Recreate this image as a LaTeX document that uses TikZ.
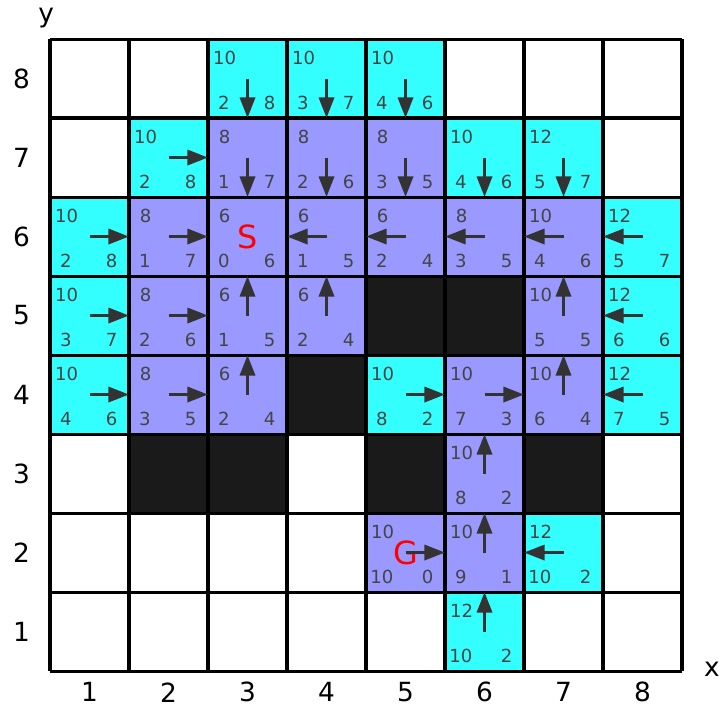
\documentclass[tikz,border=0pt]{standalone}
\usepackage{fontspec}
\setmainfont{DejaVu Sans}
\usetikzlibrary{arrows.meta}

\definecolor{openc}{HTML}{33FFFF}
\definecolor{closedc}{HTML}{9999FF}
\definecolor{wallc}{HTML}{1A1A1A}
\definecolor{numc}{HTML}{444444}
\definecolor{arrc}{HTML}{333333}

\begin{document}
\begin{tikzpicture}[
  cell/.style={minimum size=1cm, inner sep=0pt, outer sep=0pt},
  num/.style={font=\fontsize{6.5}{7}\selectfont, text=numc, inner sep=0pt},
  parent/.style={draw=arrc, line width=1.2pt, -{Triangle[length=2.6mm, width=1.9mm]}},
  axis/.style={font=\fontsize{9.5}{11}\selectfont, inner sep=0pt},
  endlabel/.style={font=\fontsize{11.5}{13}\selectfont, text=red, inner sep=0pt}
]
\useasboundingbox (-0.633,-0.481) rectangle (8.506,8.494);

% Cells
\foreach \x in {1,...,8}
  \foreach \y in {1,...,8}
    \node[cell] (c\x\y) at (\x-0.5,\y-0.5) {};

% Open, closed and blocked cells
\foreach \x/\y/\c in {3/8/openc, 4/8/openc, 5/8/openc,
    2/7/openc, 3/7/closedc, 4/7/closedc, 5/7/closedc, 6/7/openc, 7/7/openc,
    1/6/openc, 2/6/closedc, 3/6/closedc, 4/6/closedc, 5/6/closedc, 6/6/closedc, 7/6/closedc, 8/6/openc,
    1/5/openc, 2/5/closedc, 3/5/closedc, 4/5/closedc, 5/5/wallc, 6/5/wallc, 7/5/closedc, 8/5/openc,
    1/4/openc, 2/4/closedc, 3/4/closedc, 4/4/wallc, 5/4/openc, 6/4/closedc, 7/4/closedc, 8/4/openc,
    2/3/wallc, 3/3/wallc, 5/3/wallc, 6/3/closedc, 7/3/wallc,
    5/2/closedc, 6/2/closedc, 7/2/openc,
    6/1/openc}
  \fill[\c] (c\x\y.south west) rectangle (c\x\y.north east);

% Grid
\draw[line width=1.1pt] (0,0) grid (8,8);

% Start and goal
\node[endlabel] (start) at (c36) {S};
\node[endlabel] (goal) at (c52) {G};

% Parent pointers
\foreach \x/\y/\d in {3/8/south, 4/8/south, 5/8/south,
    2/7/east, 3/7/south, 4/7/south, 5/7/south, 6/7/south, 7/7/south,
    1/6/east, 2/6/east, 4/6/west, 5/6/west, 6/6/west, 7/6/west, 8/6/west,
    1/5/east, 2/5/east, 3/5/north, 4/5/north, 7/5/north, 8/5/west,
    1/4/east, 2/4/east, 3/4/north, 5/4/east, 6/4/east, 7/4/north, 8/4/west,
    6/3/north, 5/2/east, 6/2/north, 7/2/west, 6/1/north}
  \draw[parent] (c\x\y.center) -- (c\x\y.\d);

% f, g and h values
\foreach \x/\y/\f/\g/\h in {3/8/10/2/8, 4/8/10/3/7, 5/8/10/4/6,
    2/7/10/2/8, 3/7/8/1/7, 4/7/8/2/6, 5/7/8/3/5, 6/7/10/4/6, 7/7/12/5/7,
    1/6/10/2/8, 2/6/8/1/7, 3/6/6/0/6, 4/6/6/1/5, 5/6/6/2/4, 6/6/8/3/5, 7/6/10/4/6, 8/6/12/5/7,
    1/5/10/3/7, 2/5/8/2/6, 3/5/6/1/5, 4/5/6/2/4, 7/5/10/5/5, 8/5/12/6/6,
    1/4/10/4/6, 2/4/8/3/5, 3/4/6/2/4, 5/4/10/8/2, 6/4/10/7/3, 7/4/10/6/4, 8/4/12/7/5,
    6/3/10/8/2, 5/2/10/10/0, 6/2/10/9/1, 7/2/12/10/2, 6/1/12/10/2} {
  \node[num, xshift=-2.9mm, yshift=2.6mm] (f\x\y) at (c\x\y) {\f};
  \node[num, xshift=-3.0mm, yshift=-3.1mm] (g\x\y) at (c\x\y) {\g};
  \node[num, xshift=2.8mm, yshift=-3.1mm] (h\x\y) at (c\x\y) {\h};
}

% Axes
\foreach \i in {1,...,8} {
  \node[axis] (row\i) at (-0.36,\i-0.5) {\i};
  \node[axis] (col\i) at (\i-0.5,-0.27) {\i};
}
\node[axis] (ylab) at (-0.05,8.27) {y};
\node[axis] (xlab) at (8.38,0.02) {x};
\end{tikzpicture}
\end{document}
